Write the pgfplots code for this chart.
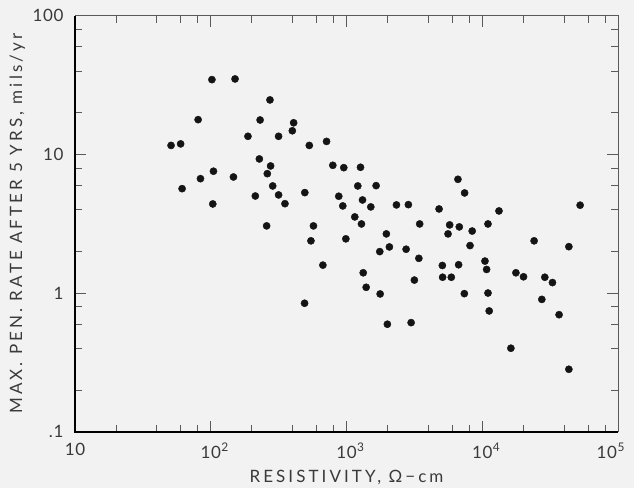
\documentclass[border=0pt]{standalone}
\usepackage{fontspec}
\setmainfont{Lato}
\usepackage{pgfplots}
\pgfplotsset{compat=1.18}
\definecolor{bg}{HTML}{F2F2F2}
\definecolor{txt}{HTML}{3A3A3A}
\definecolor{frm}{HTML}{5A5A5A}
\newcommand{\sx}[1]{10\rlap{\kern0.5pt\textsuperscript{#1}}}
\begin{document}
\begin{tikzpicture}
\fill[bg] (-75pt,-56.3pt) rectangle (559pt,431.7pt);
\begin{axis}[
  at={(0pt,0pt)}, anchor=south west,
  scale only axis, width=543pt, height=416pt,
  xmode=log, ymode=log,
  xmin=10, xmax=100000, ymin=0.1, ymax=100,
  clip=false,
  xtick={10,100,1000,10000,100000},
  xticklabels={10, \sx{2}, \sx{3}, \sx{4}, \makebox[14pt][r]{10\kern0.5pt\textsuperscript{5}}},
  ytick={0.1,1,10,100},
  yticklabels={.1,1,10,100},
  minor xtick={20,40,60,80,200,400,600,800,2000,4000,6000,8000,20000,40000,60000,80000},
  minor ytick={0.2,0.4,0.6,0.8,2,4,6,8,20,40,60,80},
  tick align=inside,
  major tick length=11pt, minor tick length=7pt,
  tick style={frm, line width=0.6pt},
  axis line style={frm, line width=0.7pt},
  ticklabel style={font=\fontsize{17}{19}\selectfont\addfontfeatures{LetterSpace=4}, text=txt},
  xticklabel style={yshift=-8pt},
  yticklabel style={xshift=-8pt},
  xlabel={RESISTIVITY, Ω−cm},
  ylabel={MAX. PEN. RATE AFTER 5 YRS, mils/yr},
  label style={font=\fontsize{17}{19}\selectfont\addfontfeatures{LetterSpace=18}, text=txt},
  xlabel style={at={(axis description cs:0.5,-0.1226)}, anchor=base},
  ylabel style={at={(axis description cs:-0.0976,0.5)}, anchor=base},
]
\addplot[only marks, mark=*, mark size=3.6pt, color=black!92] table {
x y
51 11.6
60 11.9
61.5 5.66
80.7 17.8
84 6.68
102 34.6
104.7 7.56
103.5 4.39
147 6.87
151 35.0
188 13.5
213 5.01
228 9.27
231 17.7
273 24.7
276 8.25
261 7.26
286 5.92
316 13.5
316 5.10
352 4.41
408 16.9
399 14.8
493 5.30
532 11.6
713 12.4
793 8.34
955 8.02
1268 8.07
1211 5.92
1652 5.95
877 4.99
939 4.25
1312 4.69
1510 4.18
2333 4.32
2856 4.34
1151 3.54
1289 3.15
3460 3.15
258 3.05
571 3.05
6622 6.61
7413 5.27
4808 4.04
13280 3.91
52600 4.30
5754 3.10
6776 3.00
11020 3.15
547 2.38
989 2.46
1967 2.67
1758 1.99
2070 2.15
2749 2.07
3412 1.78
670 1.59
1328 1.40
1396 1.10
1770 0.985
3162 1.24
491 0.844
2000 0.596
2992 0.612
5598 2.67
8433 2.80
24100 2.38
43450 2.16
8128 2.20
5082 1.58
6698 1.60
10470 1.70
10770 1.48
5105 1.30
5916 1.30
17700 1.40
20140 1.31
28900 1.30
32900 1.19
7380 0.99
11020 1.00
11250 0.743
27470 0.90
36810 0.698
16250 0.400
43450 0.282
};
\draw[black, line width=1.6pt] (rel axis cs:0,1) -- (rel axis cs:0,0) -- (rel axis cs:1,0);
\end{axis}
\end{tikzpicture}
\end{document}
